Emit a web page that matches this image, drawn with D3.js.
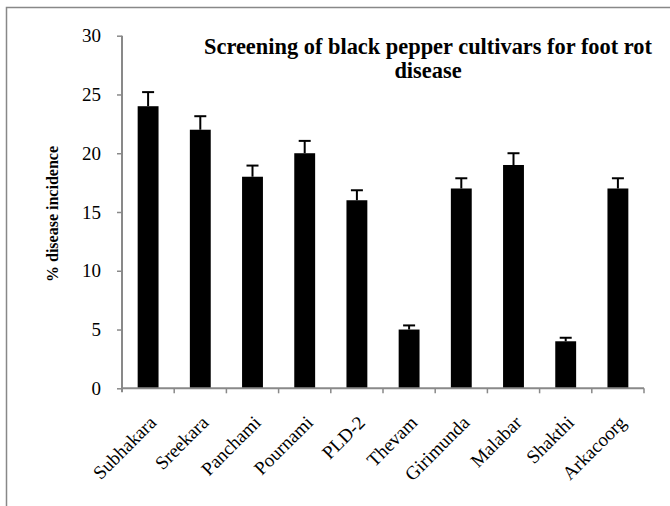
<!DOCTYPE html>
<html>
<head>
<meta charset="utf-8">
<script src="https://cdn.jsdelivr.net/npm/d3@7"></script>
<style>
  html, body { margin: 0; padding: 0; background: #fff; }
  svg { display: block; }
</style>
</head>
<body>
<script>
const categories = ["Subhakara", "Sreekara", "Panchami", "Pournami", "PLD-2", "Thevam", "Girimunda", "Malabar", "Shakthi", "Arkacoorg"];
const values = [24, 22, 18, 20, 16, 5, 17, 19, 4, 17];
const errors = [1.2, 1.15, 0.95, 1.05, 0.85, 0.35, 0.87, 1.0, 0.3, 0.87];
const yTicks = [0, 5, 10, 15, 20, 25, 30];
const titleLines = ["Screening of black pepper cultivars for foot rot", "disease"];
const yLabel = "% disease incidence";

const W = 670, H = 506;
const svg = d3.select("body").append("svg").attr("width", W).attr("height", H);

// chart area frame
svg.append("rect")
  .attr("x", 6.5).attr("y", 7.5)
  .attr("width", W + 10).attr("height", H + 10)
  .attr("fill", "none").attr("stroke", "#888").attr("stroke-width", 1.5);

const x0 = 122, x1 = 644, yTop = 35.7, yBot = 388.3;
const x = d3.scaleBand().domain(categories).range([x0, x1]).paddingInner(0.6).paddingOuter(0.3);
const y = d3.scaleLinear().domain([0, 30]).range([yBot, yTop]);

const serif = "'Liberation Serif', 'Times New Roman', Times, serif";
const axisColor = "#898989";

// bars
svg.append("g").selectAll("rect").data(values).join("rect")
  .attr("x", (d, i) => x(categories[i]))
  .attr("y", d => y(d))
  .attr("width", x.bandwidth())
  .attr("height", d => y(0) - y(d))
  .attr("fill", "#000");

// error bars (upper only)
const eg = svg.append("g").attr("stroke", "#000").attr("stroke-width", 2);
values.forEach((v, i) => {
  const cx = x(categories[i]) + x.bandwidth() / 2;
  eg.append("line").attr("x1", cx).attr("x2", cx).attr("y1", y(v)).attr("y2", y(v + errors[i]));
  eg.append("line").attr("x1", cx - 6).attr("x2", cx + 6).attr("y1", y(v + errors[i])).attr("y2", y(v + errors[i]));
});

// y axis
const yAxis = d3.axisLeft(y).tickValues(yTicks).tickSize(5).tickPadding(16).tickFormat(d3.format("d"));
const yg = svg.append("g").attr("transform", `translate(${x0},0)`).call(yAxis);
yg.select(".domain").attr("stroke", axisColor).attr("stroke-width", 2).attr("d", `M0,${yTop}V${yBot + 4}`);
yg.selectAll(".tick line").attr("stroke", axisColor).attr("stroke-width", 1.5);
yg.selectAll(".tick text").attr("font-family", serif).attr("font-size", 19).attr("fill", "#000");

// x axis
const step = x.step();
const boundaries = d3.range(categories.length + 1).map(i => x0 + i * step);
const xg = svg.append("g");
xg.append("line").attr("x1", x0).attr("x2", x1).attr("y1", yBot).attr("y2", yBot)
  .attr("stroke", axisColor).attr("stroke-width", 2);
xg.selectAll("line.tk").data(boundaries.slice(1)).join("line").attr("class", "tk")
  .attr("x1", d => d).attr("x2", d => d).attr("y1", yBot).attr("y2", yBot + 5)
  .attr("stroke", axisColor).attr("stroke-width", 1.5);

// x labels
svg.append("g").selectAll("text").data(categories).join("text")
  .attr("transform", d => `translate(${x(d) + x.bandwidth() / 2},${yBot + 26}) rotate(-45)`)
  .attr("dy", "0.7em")
  .attr("text-anchor", "end")
  .attr("font-family", serif).attr("font-size", 19).attr("fill", "#000")
  .text(d => d);

// y label
svg.append("text")
  .attr("transform", `translate(58,214) rotate(-90)`)
  .attr("text-anchor", "middle")
  .attr("font-family", serif).attr("font-size", 16).attr("font-weight", "bold")
  .text(yLabel);

// title
svg.append("g").selectAll("text").data(titleLines).join("text")
  .attr("x", 428).attr("y", (d, i) => 54.3 + i * 24)
  .attr("text-anchor", "middle")
  .attr("font-family", serif).attr("font-size", 22.4).attr("font-weight", "bold")
  .text(d => d);
</script>
</body>
</html>
